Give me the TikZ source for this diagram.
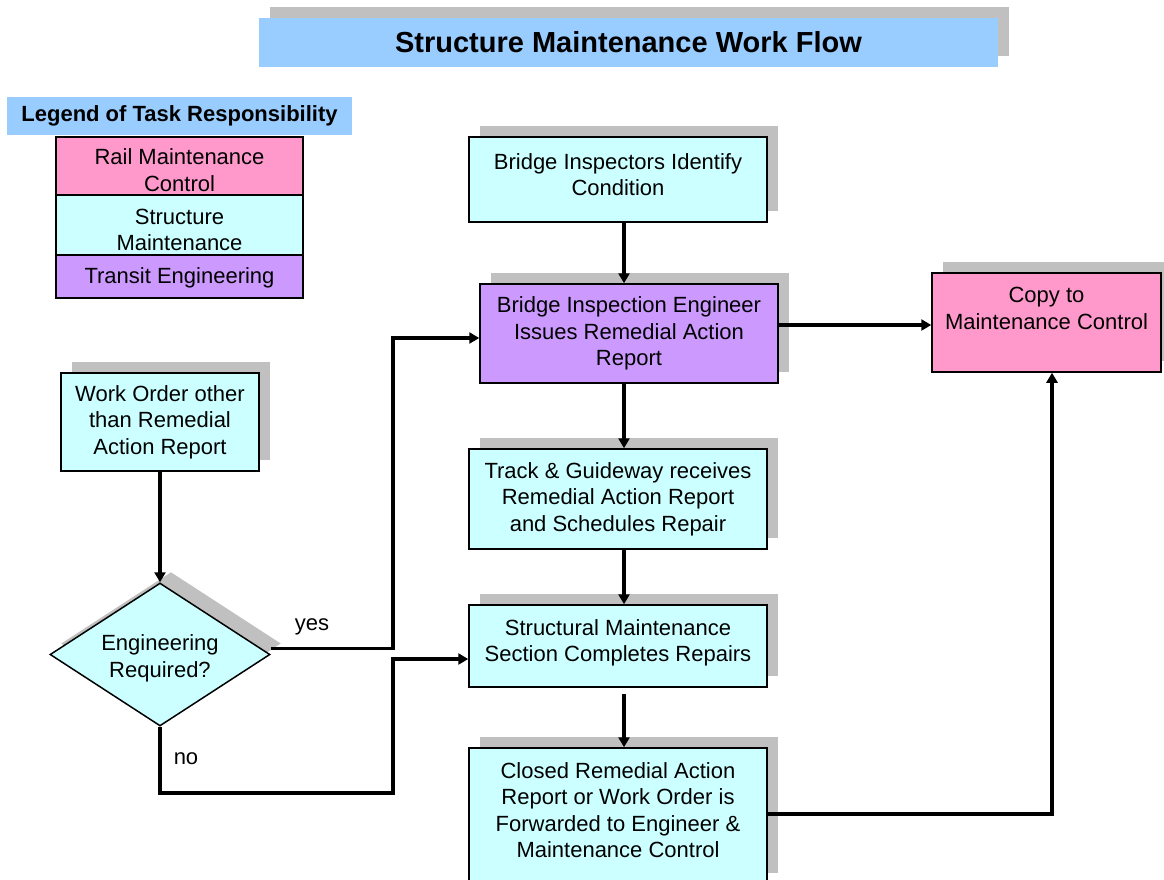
\documentclass[tikz,border=0pt]{standalone}
\usepackage{fontspec}
\setmainfont{Liberation Sans}
\usetikzlibrary{arrows.meta,shapes.geometric,shadows,calc}
\definecolor{hdrblue}{HTML}{99CCFF}
\definecolor{rmpink}{HTML}{FF99CC}
\definecolor{smcyan}{HTML}{CCFFFF}
\definecolor{tepurple}{HTML}{CC99FF}
\definecolor{shade}{HTML}{C0C0C0}
\tikzset{
  body/.style={font=\fontsize{22}{26.5}\selectfont},
  shadowed/.style={general shadow={fill=shade, shadow xshift=11pt, shadow yshift=11pt}},
  taskbox/.style={body, draw=black, line width=1.5pt, rectangle, inner sep=0pt,
    align=center, minimum width=298pt, shadowed},
  legendbox/.style={body, draw=black, line width=2pt, rectangle, inner sep=0pt,
    align=center, minimum width=247pt},
  decision/.style={body, draw=black, line width=1.5pt, diamond, aspect=1.54,
    inner sep=0pt, align=center, minimum width=220pt, minimum height=143pt, shadowed},
  inner/.style={body, align=center},
  flow/.style={line width=3.3pt, -{Triangle[length=10pt,width=11pt]}},
  tag/.style={body}
}
\begin{document}
\begin{tikzpicture}[x=1pt,y=-1pt]
\useasboundingbox (0,0) rectangle (1164,880);

% Title banner
\node[fill=hdrblue, minimum width=739pt, minimum height=49pt, inner sep=0pt,
      general shadow={fill=shade, shadow xshift=11pt, shadow yshift=11pt},
      font=\fontsize{29}{34}\selectfont\bfseries] (title) at (628.5,42.5)
      {Structure Maintenance Work Flow};

% Legend
\node[fill=hdrblue, minimum width=345pt, minimum height=38pt, inner sep=0pt,
      font=\fontsize{22}{26.5}\selectfont\bfseries] (leghead) at (179.5,116)
      {Legend of Task Responsibility};
\node[legendbox, fill=rmpink, minimum height=58pt,
      label={[inner, yshift=-4pt]center:Rail Maintenance\\Control}] (legrail) at (179.5,166) {};
\node[legendbox, fill=smcyan, minimum height=60pt,
      label={[inner, yshift=-5pt]center:Structure\\Maintenance}] (legstruct) at (179.5,225) {};
\node[legendbox, fill=tepurple, minimum height=43pt,
      label={[inner, yshift=-1.5pt]center:Transit Engineering}] (legtransit) at (179.5,276.5) {};

% Process boxes
\node[taskbox, fill=smcyan, minimum height=85pt,
      label={[inner, yshift=5pt]center:Bridge Inspectors Identify\\Condition}] (insp) at (618,179.5) {};
\node[taskbox, fill=tepurple, minimum height=99pt] (bie) at (629,333.5)
      {Bridge Inspection Engineer\\Issues Remedial Action\\Report};
\node[taskbox, fill=rmpink, minimum width=229pt, minimum height=99pt,
      label={[inner, yshift=14pt]center:Copy to\\Maintenance Control}] (copy) at (1046.5,322.5) {};
\node[taskbox, fill=smcyan, minimum width=198pt, minimum height=98pt] (wo) at (160,422)
      {Work Order other\\than Remedial\\Action Report};
\node[taskbox, fill=smcyan, minimum height=100pt] (track) at (618,499)
      {Track \& Guideway receives\\Remedial Action Report\\and Schedules Repair};
\node[taskbox, fill=smcyan, minimum height=82pt,
      label={[inner, yshift=3pt]center:Structural Maintenance\\Section Completes Repairs}] (struct) at (618,646) {};
\node[taskbox, fill=smcyan, minimum height=136pt,
      label={[inner, yshift=6pt]center:Closed Remedial Action\\Report or Work Order is\\Forwarded to Engineer \&\\Maintenance Control}] (closed) at (618,816) {};

% Decision
\node[decision, fill=smcyan,
      label={[inner, yshift=-4pt]center:Engineering\\Required?}] (dia) at (160,654.5) {};

% Bend points of the routed connectors
\coordinate (yescorner) at (393,648);
\coordinate (nocorner) at (393,793);

% Connectors
\draw[flow] ([xshift=6pt]insp.south) -- ([xshift=6pt]insp.south |- bie.north);
\draw[flow] ([xshift=-5pt]bie.south) -- ([xshift=-5pt]bie.south |- track.north);
\draw[flow] ([xshift=6pt]track.south) -- ([xshift=6pt]track.south |- struct.north);
\draw[flow] ([xshift=6pt,yshift=-6pt]struct.south) -- ([xshift=6pt]struct.south |- closed.north);
\draw[flow] ([yshift=8.5pt]bie.east) -- ([yshift=8.5pt]bie.east -| copy.west);
\draw[flow] (wo.south) -- (dia.north);
\draw[flow] ([yshift=6pt]dia.east) -- ([yshift=6pt]dia.east -| yescorner) |- ([yshift=-4.5pt]bie.west);
\draw[flow] (dia.south) |- (nocorner) |- ([yshift=-13pt]struct.west);
\draw[flow] ([yshift=2pt]closed.east) -| ([xshift=5.5pt]copy.south);

% Branch labels
\node[tag] (yeslabel) at (312,627) {yes};
\node[tag] (nolabel) at (186,759) {no};
\end{tikzpicture}
\end{document}
